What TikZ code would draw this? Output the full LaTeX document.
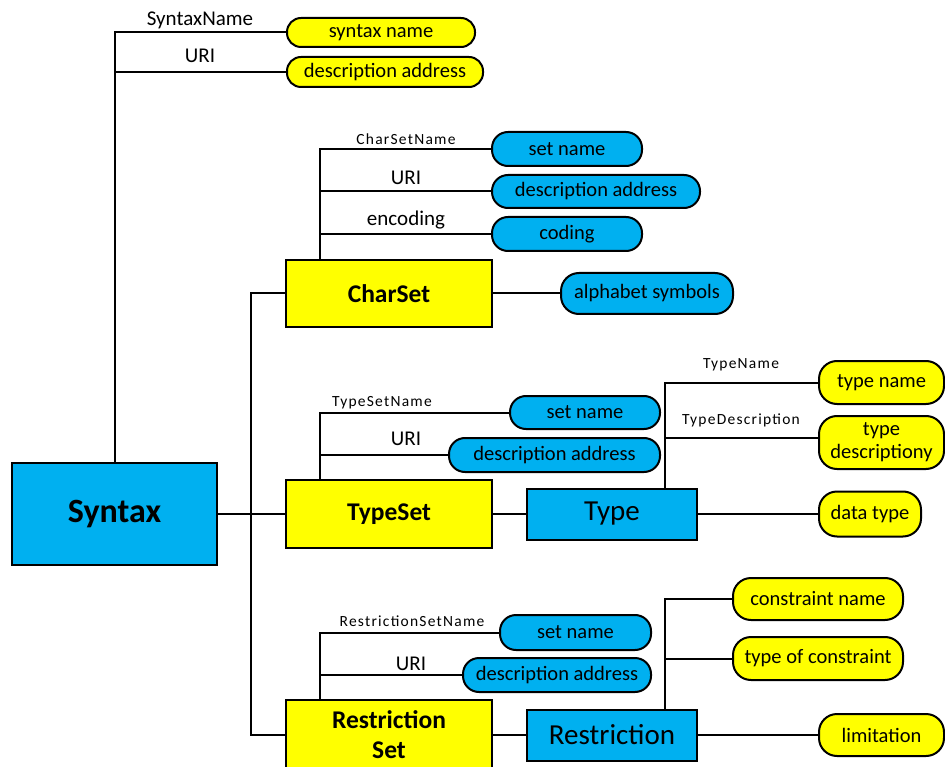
\documentclass[tikz,border=0pt]{standalone}
\usepackage{fontspec}
\setmainfont{Carlito}
\newfontfamily\smallfont{Carlito}[LetterSpace=8]
\definecolor{mycyan}{HTML}{00B0F0}
\definecolor{myyellow}{HTML}{FFFF00}
\begin{document}
\begin{tikzpicture}[x=1pt,y=-1pt,
  conn/.style={line width=2pt},
  box/.style={draw, line width=2pt, inner sep=0pt, align=center},
  pill/.style={draw, line width=2pt, rounded corners=#1, inner sep=0pt, align=center,
    font=\fontsize{20.5}{23}\selectfont},
  pill/.default=14pt,
  cy/.style={fill=mycyan},
  ye/.style={fill=myyellow},
  lbl/.style={inner sep=0pt, anchor=base, font=\fontsize{21}{23}\selectfont},
  slbl/.style={inner sep=0pt, anchor=base, font=\smallfont\fontsize{15.5}{18}\selectfont},
  boldbox/.style={box, font=\bfseries\fontsize{25.5}{30}\selectfont},
  plainbox/.style={box, font=\fontsize{29}{32}\selectfont}
]
\useasboundingbox (0,0) rectangle (945,767);

% main boxes
\node[box, cy, font=\bfseries\fontsize{34}{36}\selectfont, minimum width=205pt, minimum height=102pt] (syn) at (114.5,514) {Syntax};
\node[boldbox, ye, minimum width=206pt, minimum height=67pt] (cs) at (389,293.5) {CharSet};
\node[boldbox, ye, minimum width=206pt, minimum height=68pt] (ts) at (389,514) {TypeSet};
\node[plainbox, cy, minimum width=170pt, minimum height=51pt] (ty) at (612,514) {Type};
\node[boldbox, ye, minimum width=206pt, minimum height=70pt] (rs) at (389,735) {Restriction\\Set};
\node[plainbox, cy, minimum width=170pt, minimum height=51pt] (re) at (612,735) {Restriction};

% pills
\node[pill, ye, minimum width=188pt, minimum height=29pt] (sn) at (381,32.5) {syntax name};
\node[pill, ye, minimum width=196pt, minimum height=30pt] (da) at (385,72) {description address};
\node[pill=16pt, cy, minimum width=150pt, minimum height=34pt] (csn) at (567,149) {set name};
\node[pill=16pt, cy, minimum width=208pt, minimum height=33pt] (cda) at (596,191.5) {description address};
\node[pill=16pt, cy, minimum width=150pt, minimum height=34pt] (cod) at (567,234) {coding};
\node[pill=18pt, cy, minimum width=172pt, minimum height=41pt] (alp) at (647,293.5) {alphabet symbols};
\node[pill=16pt, cy, minimum width=150pt, minimum height=33pt] (tsn) at (585,412.5) {set name};
\node[pill=16pt, cy, minimum width=211pt, minimum height=34pt] (tda) at (554.5,455) {description address};
\node[pill=18pt, ye, minimum width=125pt, minimum height=43pt] (tn) at (881.5,382.5) {type name};
\node[pill=18pt, ye, minimum width=125pt, minimum height=53pt] (tdesc) at (881.5,442.5) {type\\descriptiony};
\node[pill=18pt, ye, minimum width=102pt, minimum height=45pt] (dt) at (870,514) {data type};
\node[pill=16pt, cy, minimum width=151pt, minimum height=35pt] (rsn) at (575.5,632.5) {set name};
\node[pill=16pt, cy, minimum width=188pt, minimum height=34pt] (rda) at (557,675) {description address};
\node[pill=18pt, ye, minimum width=170pt, minimum height=42pt] (cn) at (818,599) {constraint name};
\node[pill=18pt, ye, minimum width=170pt, minimum height=43pt] (toc) at (818,658.5) {type of constraint};
\node[pill=18pt, ye, minimum width=125pt, minimum height=42pt] (lim) at (881.5,735) {limitation};

% junction coordinates
\coordinate (synup) at (115,463);
\coordinate (spine) at (251,293.5);
\coordinate (csup) at (320,260);
\coordinate (tsup) at (320,480);
\coordinate (rsup) at (320,700);
\coordinate (tyup) at (665,489);
\coordinate (reup) at (665,709.5);

% connectors
\draw[conn] (synup) |- (sn.west);
\draw[conn] (synup |- da.west) -- (da.west);
\draw[conn] (syn.east) -- (ts.west);
\draw[conn] (cs.west) -- (spine) |- (rs.west);
\draw[conn] (csup) |- (csn.west);
\draw[conn] (csup |- cda.west) -- (cda.west);
\draw[conn] (csup |- cod.west) -- (cod.west);
\draw[conn] (cs.east) -- (alp.west);
\draw[conn] (tsup) |- (tsn.west);
\draw[conn] (tsup |- tda.west) -- (tda.west);
\draw[conn] (ts.east) -- (ty.west);
\draw[conn] (tyup) |- (tn.west);
\draw[conn] (tyup |- tdesc.west) ++(0,-5) -- ([yshift=5pt]tdesc.west);
\draw[conn] (ty.east) -- (dt.west);
\draw[conn] (rsup) |- (rsn.west);
\draw[conn] (rsup |- rda.west) -- (rda.west);
\draw[conn] (rs.east) -- (re.west);
\draw[conn] (reup) |- (cn.west);
\draw[conn] (reup |- toc.west) -- (toc.west);
\draw[conn] (re.east) -- (lim.west);

% labels
\node[lbl] (l1) at (200,26) {SyntaxName};
\node[lbl] (l2) at (200,63) {URI};
\node[slbl] (l3) at (406,145) {CharSetName};
\node[lbl] (l4) at (406,185) {URI};
\node[lbl] (l5) at (406,226) {encoding};
\node[slbl] (l6) at (382,406) {TypeSetName};
\node[lbl] (l7) at (406,445) {URI};
\node[slbl] (l8) at (741,368) {TypeName};
\node[slbl] (l9) at (741,424) {TypeDescription};
\node[slbl] (l10) at (412,626) {RestrictionSetName};
\node[lbl] (l11) at (411,670) {URI};
\end{tikzpicture}
\end{document}
